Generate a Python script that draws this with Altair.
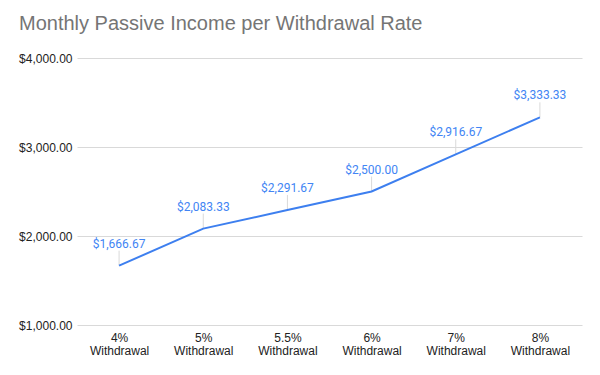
import altair as alt
import pandas as pd

categories = ["4% Withdrawal", "5% Withdrawal", "5.5% Withdrawal", "6% Withdrawal", "7% Withdrawal", "8% Withdrawal"]
income = [1666.67, 2083.33, 2291.67, 2500.00, 2916.67, 3333.33]

df = pd.DataFrame({"rate": categories, "income": income})

x = alt.X("rate:N", sort=categories, title=None,
          scale=alt.Scale(type="point", padding=0.5),
          axis=alt.Axis(labelAngle=0, labelExpr="split(datum.label, ' ')",
                        ticks=False, domain=False, grid=False,
                        labelFont="Liberation Sans", labelFontSize=12,
                        labelColor="#222222", labelPadding=7, labelLineHeight=13))
y = alt.Y("income:Q", title=None,
          scale=alt.Scale(domain=[1000, 4000], nice=False, zero=False),
          axis=alt.Axis(values=[1000, 2000, 3000, 4000], format="$,.2f",
                        ticks=False, domain=False, grid=True,
                        gridColor="#d9d9d9", gridWidth=1,
                        labelFont="Liberation Sans", labelFontSize=12,
                        labelColor="#222222", labelPadding=5))

base = alt.Chart(df)

leader = base.mark_rule(color="#d9d9d9", strokeWidth=1, y2Offset=-15).encode(
    x=x, y=y, y2="income:Q")
line = base.mark_line(color="#3d7fef", strokeWidth=2).encode(x=x, y=y)
labels = base.mark_text(dy=-22, color="#4285F4", font="Roboto", fontSize=12,
                        baseline="middle").encode(
    x=x, y=y, text=alt.Text("income:Q", format="$,.2f"))

chart = alt.layer(leader, line, labels).properties(
    width=505, height=267,
    autosize=alt.AutoSizeParams(type="none"),
    padding={"left": 69, "top": 50, "right": 10, "bottom": 40},
    title=alt.TitleParams("Monthly Passive Income per Withdrawal Rate",
                          anchor="start", frame="group", dx=-58,
                          font="Liberation Sans", fontSize=20,
                          fontWeight="normal", color="#757575", offset=18)
).configure_view(stroke=None)

chart.save("out.html", embed_options={"renderer": "svg", "actions": False})
